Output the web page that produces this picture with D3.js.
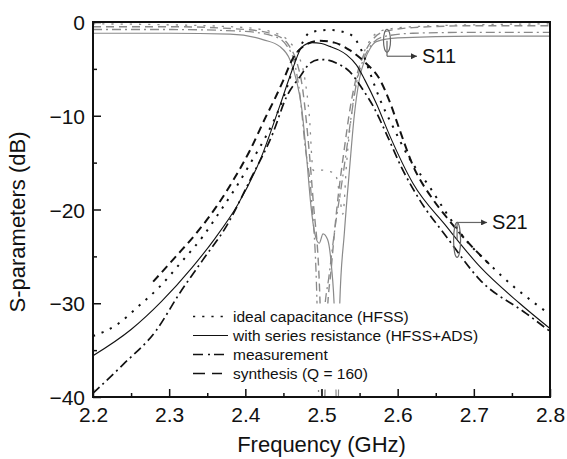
<!DOCTYPE html>
<html>
<head>
<meta charset="utf-8">
<script src="https://cdn.jsdelivr.net/npm/d3@7"></script>
<style>
  body { margin: 0; background: #fff; }
  text { font-family: "Liberation Sans", Arial, sans-serif; fill: #111; }
</style>
</head>
<body>
<div id="chart"></div>
<script>
// tick labels
const xTicks = [2.2, 2.3, 2.4, 2.5, 2.6, 2.7, 2.8]
const yTicks = [0, -10, -20, -30, -40]

// S21, ideal capacitance (HFSS)
const s21IdealF = [2.2, 2.231, 2.26, 2.288, 2.316, 2.344, 2.366, 2.388, 2.41, 2.427, 2.449, 2.46, 2.467, 2.475, 2.485, 2.511, 2.537, 2.545, 2.55, 2.557, 2.564, 2.577, 2.594, 2.615, 2.642, 2.665, 2.69, 2.72, 2.752, 2.78, 2.8]
const s21IdealDb = [-33.5, -32.3, -30.3, -28.2, -25.6, -22.9, -20.3, -17.6, -14.6, -12.2, -8.3, -5.6, -3.7, -2.2, -1.1, -0.85, -1.3, -1.9, -2.6, -3.9, -5.5, -8.3, -11.2, -14.5, -17.6, -20.5, -23.3, -25.8, -28.2, -30.0, -31.2]

// S21, with series resistance (HFSS+ADS)
const s21ResF = [2.2, 2.25, 2.29, 2.33, 2.36, 2.39, 2.42, 2.445, 2.463, 2.474, 2.487, 2.5, 2.511, 2.523, 2.533, 2.546, 2.557, 2.572, 2.59, 2.62, 2.664, 2.708, 2.76, 2.8]
const s21ResDb = [-35.6, -32.8, -29.8, -26.2, -23.1, -19.5, -14.6, -9.0, -4.8, -2.7, -2.2, -2.3, -2.6, -3.0, -3.5, -4.6, -6.2, -8.7, -12.2, -17.2, -21.8, -26.1, -30.0, -32.7]

// S21, measurement
const s21MeasF = [2.2, 2.24, 2.283, 2.314, 2.344, 2.375, 2.406, 2.436, 2.454, 2.472, 2.485, 2.498, 2.51, 2.52, 2.537, 2.555, 2.568, 2.585, 2.605, 2.629, 2.664, 2.708, 2.769, 2.8]
const s21MeasDb = [-39.6, -36.5, -32.9, -28.9, -25.4, -21.8, -16.9, -11.9, -8.0, -5.8, -4.4, -4.0, -4.1, -4.4, -5.3, -7.3, -9.0, -11.9, -15.5, -19.0, -22.9, -27.5, -31.1, -33.0]

// S21, synthesis (Q = 160)
const s21SynF = [2.279, 2.309, 2.336, 2.362, 2.384, 2.406, 2.427, 2.438, 2.45, 2.461, 2.478, 2.498, 2.517, 2.537, 2.557, 2.577, 2.59, 2.603, 2.62, 2.647, 2.664, 2.69, 2.72]
const s21SynDb = [-27.7, -25.0, -22.5, -19.7, -16.9, -13.7, -10.1, -8.3, -6.2, -4.1, -2.5, -2.0, -2.2, -3.0, -4.3, -6.2, -8.6, -11.6, -15.3, -19.0, -20.8, -23.3, -25.8]

// S11 curves (grey)
const s11IdealF = [2.2, 2.3, 2.4, 2.44, 2.46, 2.47, 2.478, 2.484, 2.489, 2.494, 2.5, 2.508, 2.518, 2.523, 2.528, 2.533, 2.54, 2.548, 2.556, 2.565, 2.58, 2.62, 2.7, 2.8]
const s11IdealDb = [-0.2, -0.3, -0.6, -1.2, -2.3, -3.6, -6.0, -10.0, -15.8, -15.9, -15.8, -15.9, -16.2, -18.0, -20.5, -15.0, -9.5, -5.5, -3.2, -1.8, -0.9, -0.5, -0.3, -0.2]

const s11ResF = [2.2, 2.3, 2.38, 2.424, 2.445, 2.459, 2.467, 2.474, 2.48, 2.486, 2.491, 2.497, 2.502, 2.508, 2.513, 2.517, 2.521, 2.524, 2.53, 2.537, 2.543, 2.55, 2.557, 2.564, 2.572, 2.6, 2.7, 2.8]
const s11ResDb = [-1.2, -1.2, -1.3, -1.9, -2.6, -4.1, -6.2, -9.2, -14.0, -19.5, -22.5, -23.6, -22.6, -23.2, -26.0, -31.0, -45.0, -30.0, -22.5, -15.5, -10.0, -6.0, -4.0, -2.8, -2.1, -1.7, -1.5, -1.5]

const s11MeasF = [2.2, 2.3, 2.4, 2.44, 2.455, 2.465, 2.472, 2.478, 2.487, 2.494, 2.498, 2.503, 2.51, 2.518, 2.527, 2.534, 2.539, 2.546, 2.555, 2.565, 2.58, 2.62, 2.7, 2.8]
const s11MeasDb = [-0.8, -0.8, -1.0, -1.6, -2.6, -4.5, -8.0, -12.9, -19.0, -29.7, -45.0, -32.0, -27.0, -21.8, -17.0, -13.0, -10.1, -6.5, -4.0, -2.5, -1.6, -1.2, -1.1, -1.1]

const s11SynF = [2.2, 2.3, 2.4, 2.44, 2.458, 2.468, 2.475, 2.48, 2.489, 2.498, 2.502, 2.507, 2.513, 2.52, 2.53, 2.538, 2.547, 2.556, 2.566, 2.58, 2.62, 2.7, 2.8]
const s11SynDb = [-0.5, -0.5, -0.8, -1.4, -2.6, -4.4, -7.0, -10.5, -19.0, -29.7, -45.0, -32.0, -26.1, -20.0, -13.5, -9.0, -5.5, -3.4, -2.0, -1.1, -0.6, -0.4, -0.4]

const legendLabels = ['ideal capacitance (HFSS)', 'with series resistance (HFSS+ADS)', 'measurement', 'synthesis (Q = 160)']

const dashes = { dot: '2.2,7', solid: null, dashdot: '9,4,2,4', dash: '8,5' }

const margin = { top: 22, right: 17, bottom: 62, left: 93 },
  fullWidth = 567,
  fullHeight = 459,
  width = fullWidth - margin.left - margin.right,
  height = fullHeight - margin.top - margin.bottom

const svg = d3.select('#chart')
  .append('svg')
    .attr('width', fullWidth)
    .attr('height', fullHeight)
  .append('g')
    .attr('transform', `translate(${margin.left}, ${margin.top})`)

const xScale = d3.scaleLinear().domain([2.2, 2.8]).range([0, width])
const yScale = d3.scaleLinear().domain([-40, 0]).range([height, 0])

svg.append('clipPath').attr('id', 'plot')
  .append('rect').attr('width', width).attr('height', height)

const line = d3.line()
  .x(d => xScale(d[0]))
  .y(d => yScale(d[1]))
  .curve(d3.curveMonotoneX)

const curves = [
  { f: s11IdealF, db: s11IdealDb, color: '#8a8a8a', w: 1.3, dash: dashes.dot },
  { f: s11SynF, db: s11SynDb, color: '#8a8a8a', w: 1.4, dash: dashes.dash },
  { f: s11MeasF, db: s11MeasDb, color: '#8a8a8a', w: 1.3, dash: dashes.dashdot },
  { f: s11ResF, db: s11ResDb, color: '#8a8a8a', w: 1.2, dash: dashes.solid },
  { f: s21IdealF, db: s21IdealDb, color: '#111', w: 2, dash: dashes.dot },
  { f: s21SynF, db: s21SynDb, color: '#111', w: 2, dash: dashes.dash },
  { f: s21MeasF, db: s21MeasDb, color: '#111', w: 1.7, dash: dashes.dashdot },
  { f: s21ResF, db: s21ResDb, color: '#111', w: 1.1, dash: dashes.solid }
]

const plot = svg.append('g').attr('clip-path', 'url(#plot)')
plot.selectAll('.curve')
  .data(curves)
  .enter()
  .append('path')
  .attr('class', 'curve')
  .attr('d', c => line(c.f.map((f, i) => [f, c.db[i]])))
  .style('fill', 'none')
  .style('stroke', c => c.color)
  .style('stroke-width', c => c.w)
  .style('stroke-dasharray', c => c.dash)

// legend (opaque, hides the curves behind it)
const legend = svg.append('g').attr('transform', `translate(${Math.round(xScale(2.3312))}, ${Math.round(yScale(-31.36)) + 0.5})`)
legend.append('rect')
  .attr('x', -6).attr('y', -13).attr('width', 290).attr('height', 86)
  .style('fill', '#fff')
const legendDash = [dashes.dot, dashes.solid, '10,5,2,4,10', '12,7,10,7,2']
legendLabels.forEach((t, i) => {
  const g = legend.append('g').attr('transform', `translate(0, ${i * 19})`)
  g.append('line').attr('x1', 0).attr('x2', 35).attr('y1', 0).attr('y2', 0)
    .style('stroke', '#111').style('stroke-width', i === 1 ? 1 : 1.7)
    .style('stroke-dasharray', legendDash[i])
  g.append('text').attr('x', 40).attr('y', 5.5).style('font-size', '15.5px').text(t)
})

// axes: inward ticks, box frame
const xAxis = svg.append('g').attr('transform', `translate(0, ${height})`)
  .call(d3.axisBottom(xScale).tickValues(d3.range(2.2, 2.801, 0.05)).tickSize(-4).tickFormat(''))
xAxis.selectAll('.tick line').filter((d, i) => i % 2 === 0).attr('y2', -8)
svg.append('g').attr('transform', `translate(0, ${height})`)
  .call(d3.axisBottom(xScale).tickValues(xTicks).tickSize(0).tickPadding(10).tickFormat(d3.format('.1f')))
  .call(g => g.select('.domain').remove())
  .selectAll('text').style('font-size', '21px')

const yAxis = svg.append('g')
  .call(d3.axisLeft(yScale).tickValues(d3.range(-40, 0.1, 5)).tickSize(-4).tickFormat(''))
yAxis.selectAll('.tick line').filter((d, i) => i % 2 === 0).attr('x2', 8)
svg.append('g')
  .call(d3.axisLeft(yScale).tickValues(yTicks).tickSize(0).tickPadding(8).tickFormat(d3.format('d')))
  .call(g => g.select('.domain').remove())
  .selectAll('text').style('font-size', '21px').attr('dy', '0.36em')

svg.selectAll('.tick line').style('stroke', '#111').style('stroke-width', 1.5)
svg.selectAll('.domain').remove()
svg.append('rect').attr('width', width).attr('height', height)
  .style('fill', 'none').style('stroke', '#111').style('stroke-width', 2)

// axis titles
svg.append('text')
  .attr('x', width / 2).attr('y', height + 55)
  .attr('text-anchor', 'middle').style('font-size', '22px')
  .text('Frequency (GHz)')
svg.append('text')
  .attr('transform', `translate(${-68}, ${200}) rotate(-90)`)
  .attr('text-anchor', 'middle').style('font-size', '22px')
  .text('S-parameters (dB)')

// S11 / S21 markers
svg.append('defs').append('marker')
  .attr('id', 'arrow').attr('viewBox', '0 0 10 10').attr('refX', 10).attr('refY', 5)
  .attr('markerWidth', 9).attr('markerHeight', 5).attr('orient', 'auto')
  .append('path').attr('d', 'M0,0L10,5L0,10Z').style('fill', '#333')

function marker (f, db, ry, label, ax) {
  const cx = xScale(f), cy = yScale(db)
  svg.append('ellipse').attr('cx', cx).attr('cy', cy).attr('rx', 3.5).attr('ry', ry)
    .style('fill', 'none').style('stroke', '#666').style('stroke-width', 1.2)
  const y0 = label === 'S11' ? cy + ry + 4 : cy - ry
  svg.append('line').attr('x1', cx).attr('x2', cx).attr('y1', cy).attr('y2', y0)
    .style('stroke', '#666').style('stroke-width', 1.2)
  svg.append('line').attr('x1', cx).attr('x2', cx + ax).attr('y1', y0).attr('y2', y0)
    .style('stroke', '#666').style('stroke-width', 1.2).attr('marker-end', 'url(#arrow)')
  svg.append('text').attr('x', cx + ax + 5).attr('y', y0 + 6.5).style('font-size', '20px').text(label)
}
marker(2.586, -2.0, 11.5, 'S11', 30)
marker(2.678, -23.25, 17.5, 'S21', 30)
</script>
</body>
</html>
